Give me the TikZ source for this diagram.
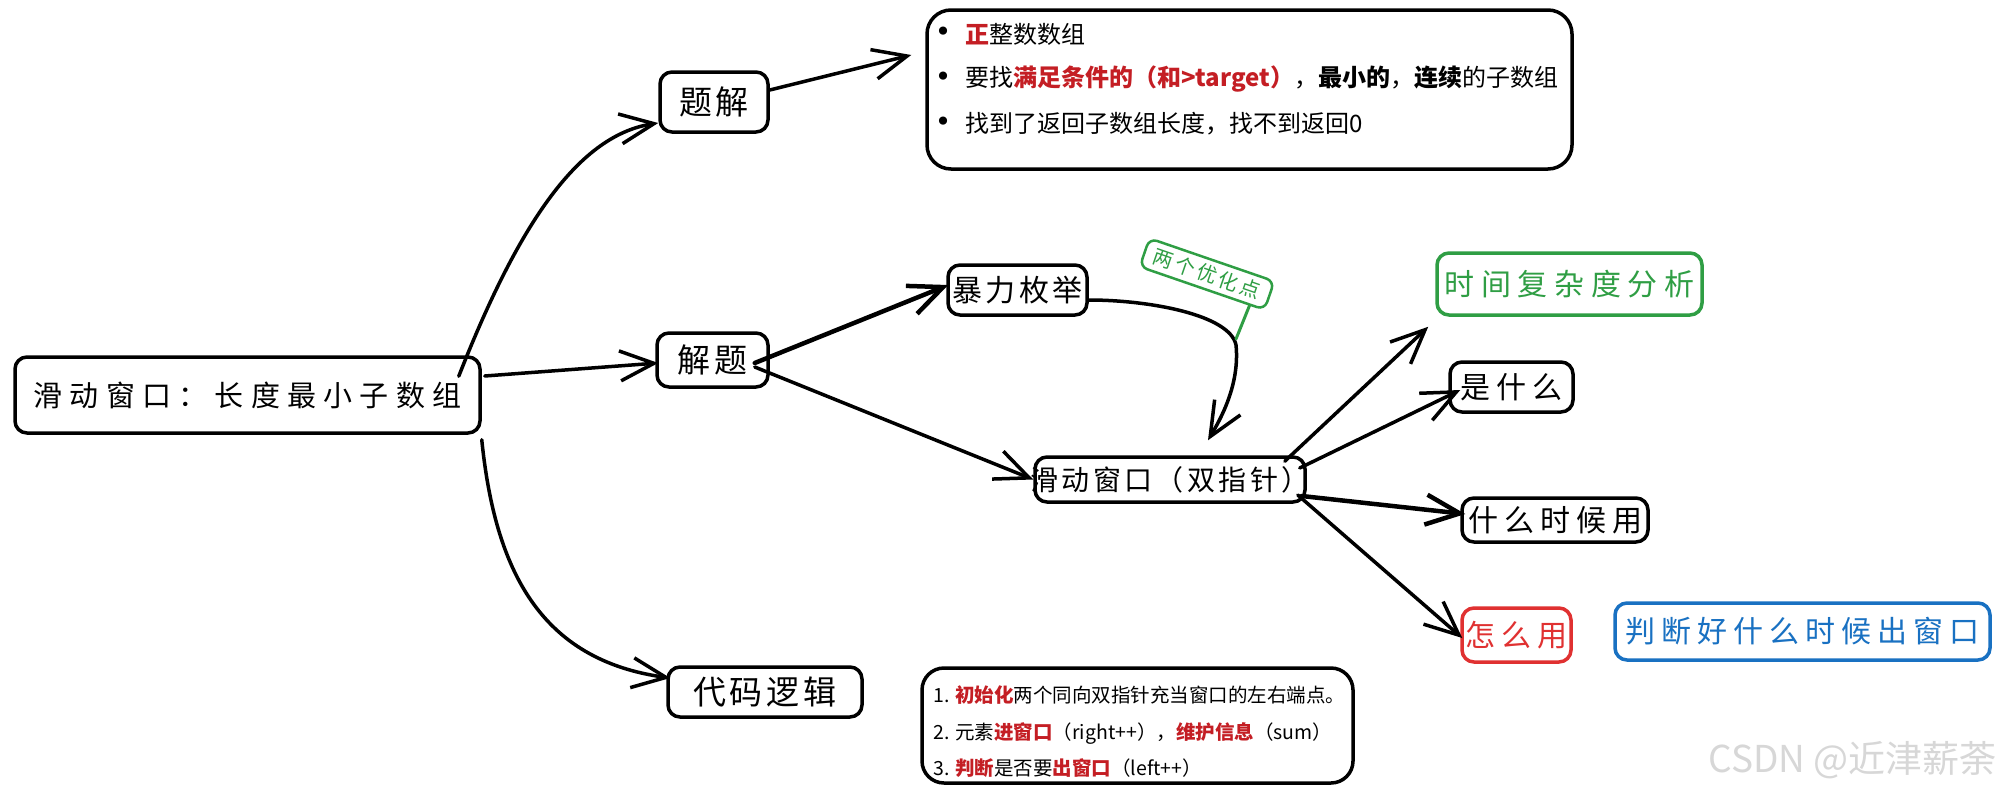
\documentclass[tikz,border=0pt]{standalone}
\usepackage{fontspec}
\setmainfont{Noto Sans CJK SC}
\newfontfamily\handA[LetterSpace=20]{Noto Sans CJK SC}
\newfontfamily\handB[LetterSpace=25]{Noto Sans CJK SC}
\newfontfamily\handC[LetterSpace=12]{Noto Sans CJK SC}
\newfontfamily\handD[LetterSpace=15]{Noto Sans CJK SC}
\newfontfamily\handE[LetterSpace=22]{Noto Sans CJK SC}
\newfontfamily\dejavu{DejaVu Sans}
\usetikzlibrary{arrows.meta,calc}
\definecolor{exgreen}{HTML}{2F9E44}
\definecolor{exred}{HTML}{E03131}
\definecolor{exblue}{HTML}{1971C2}
\definecolor{emred}{RGB}{196,30,36}
\definecolor{wmgray}{RGB}{215,215,215}
\tikzset{
  box/.style={draw=black, line width=3.5pt, rounded corners=12pt, inner sep=0pt, align=center},
  conn/.style={line width=3.5pt, line cap=round, line join=round,
    -{Straight Barb[length=34pt,width=30pt]}},
  fA/.style={font={\handA\fontsize{30}{36}\selectfont}},
  fB/.style={font={\handB\fontsize{29}{34}\selectfont}},
  fC/.style={font={\handC\fontsize{33}{38}\selectfont}},
  fD/.style={font={\handC\fontsize{28}{33}\selectfont}},
  txt/.style={anchor=west, inner sep=0pt},
  bul/.style={inner sep=0pt, font={\dejavu\fontsize{28}{30}\selectfont}},
}
\begin{document}
\begin{tikzpicture}[x=1pt,y=-1pt]
\useasboundingbox (0,0) rectangle (2002,798);
\fill[white] (0,0) rectangle (2002,798);

% nodes
\node[box, fB, minimum width=465pt, minimum height=76pt] (main) at (247.5,395) {滑动窗口：长度最小子数组};
\node[box, fC, minimum width=108pt, minimum height=60pt] (tijie) at (714,102) {题解};
\node[box, fC, minimum width=111pt, minimum height=54pt] (jieti) at (712.5,360) {解题};
\node[box, fC, minimum width=194pt, minimum height=50pt] (daima) at (765,692) {代码逻辑};
\node[box, font={\handC\fontsize{30}{36}\selectfont}, minimum width=139pt, minimum height=50pt] (baoli) at (1017.5,290) {暴力枚举};
\node[box, fD, minimum width=270pt, minimum height=45pt] (hdck) at (1170,479.5) {\makebox[262pt]{滑动窗口（双指针）}};
\node[box, draw=exgreen, text=exgreen, font={\handE\fontsize{30}{36}\selectfont}, minimum width=265pt, minimum height=62pt] (fx) at (1569.5,284) {时间复杂度分析};
\node[box, fA, minimum width=123pt, minimum height=50pt] (shi) at (1511.5,387) {是什么};
\node[box, fA, minimum width=186pt, minimum height=44pt] (when) at (1555,520) {什么时候用};
\node[box, fA, draw=exred, text=exred, minimum width=109pt, minimum height=54pt] (how) at (1516.5,635) {怎么用};
\node[box, fA, draw=exblue, text=exblue, minimum width=375pt, minimum height=57pt] (judge) at (1802.5,631.5) {判断好什么时候出窗口};
\node[box, draw=exgreen, text=exgreen, line width=2.5pt, rounded corners=8pt,
      font={\handD\fontsize{20}{24}\selectfont}, minimum width=132pt, minimum height=30pt, rotate=-19] (opt) at (1207,274) {两个优化点};

% text boxes
\node[box, rounded corners=24pt, minimum width=645pt, minimum height=159pt] (tbox) at (1249.5,89.5) {};
\begin{scope}[font={\fontsize{24}{28}\selectfont}]
\node[bul] (b1) at (943,34) {•};
\node[bul] (b2) at (943,79) {•};
\node[bul] (b3) at (943,124) {•};
\node[txt] (t1) at (965,34) {\textcolor{emred}{\bfseries 正}整数数组};
\node[txt] (t2) at (965,79) {要找\textcolor{emred}{\bfseries 满足条件的（和>target）}，\textbf{最小的}，\textbf{连续}的子数组};
\node[txt] (t3) at (965,124) {找到了返回子数组长度，找不到返回0};
\end{scope}

\node[box, rounded corners=22pt, minimum width=431pt, minimum height=115pt] (cbox) at (1137.5,725.5) {};
\begin{scope}[font={\fontsize{19.5}{23}\selectfont}]
\node[txt] (c1) at (933,695) {1. \textcolor{emred}{\bfseries 初始化}两个同向双指针充当窗口的左右端点。};
\node[txt] (c2) at (933,733) {2. 元素\textcolor{emred}{\bfseries 进窗口}（right++），\textcolor{emred}{\bfseries 维护信息}（sum）};
\node[txt] (c3) at (933,768) {3. \textcolor{emred}{\bfseries 判断}是否要\textcolor{emred}{\bfseries 出窗口}（left++）};
\end{scope}

\node[text=wmgray, anchor=east, inner sep=0pt, font={\fontsize{37}{42}\selectfont}] (wm) at (1997,760) {CSDN @近津薪荼};

% connectors
\draw[conn] ([xshift=-23pt,yshift=-21pt]main.north east) .. controls (520,220) and (580,135) .. ([yshift=-21pt]tijie.west);
\draw[conn] ([yshift=12pt]tijie.east) -- ([xshift=-14pt,yshift=34.5pt]tbox.west);
\draw[conn] ([xshift=3pt,yshift=19pt]main.east) -- ([xshift=3pt,yshift=-3pt]jieti.west);
\draw[conn] ([yshift=-5pt]main.south east) .. controls (495,570) and (540,660) .. ([xshift=4pt,yshift=14pt]daima.west);
\draw[conn, line width=4.5pt] ([xshift=-15pt,yshift=-3pt]jieti.east) -- ([xshift=2pt,yshift=5pt]baoli.west);
\draw[conn] ([xshift=-15pt,yshift=-7pt]jieti.east) -- (hdck.west);
\coordinate (gend) at (1236,345);
\draw[conn] ([yshift=-10pt]baoli.east) .. controls (1150,300) and (1230,315) .. (gend) .. controls (1240,385) and (1220,420) .. ([xshift=38pt,yshift=15pt]hdck.north);
\draw[exgreen, line width=3pt, line cap=round] ($(opt.south)!0.75!(opt.south east)$) -- ([yshift=6pt]gend);
\draw[conn] ([xshift=-22pt,yshift=-6pt]hdck.north east) -- ([xshift=-7pt,yshift=-10pt]fx.south west);
\draw[conn] ([xshift=-7pt,yshift=11.5pt]hdck.east) -- ([xshift=12pt,yshift=-3pt]shi.west);
\draw[conn, line width=4.5pt] ([xshift=-5pt,yshift=-16.5pt]hdck.east) -- ([xshift=5pt,yshift=6pt]when.west);
\draw[conn] ([xshift=-9pt,yshift=-15.5pt]hdck.east) -- ([xshift=2pt,yshift=-3pt]how.west);
\end{tikzpicture}
\end{document}
